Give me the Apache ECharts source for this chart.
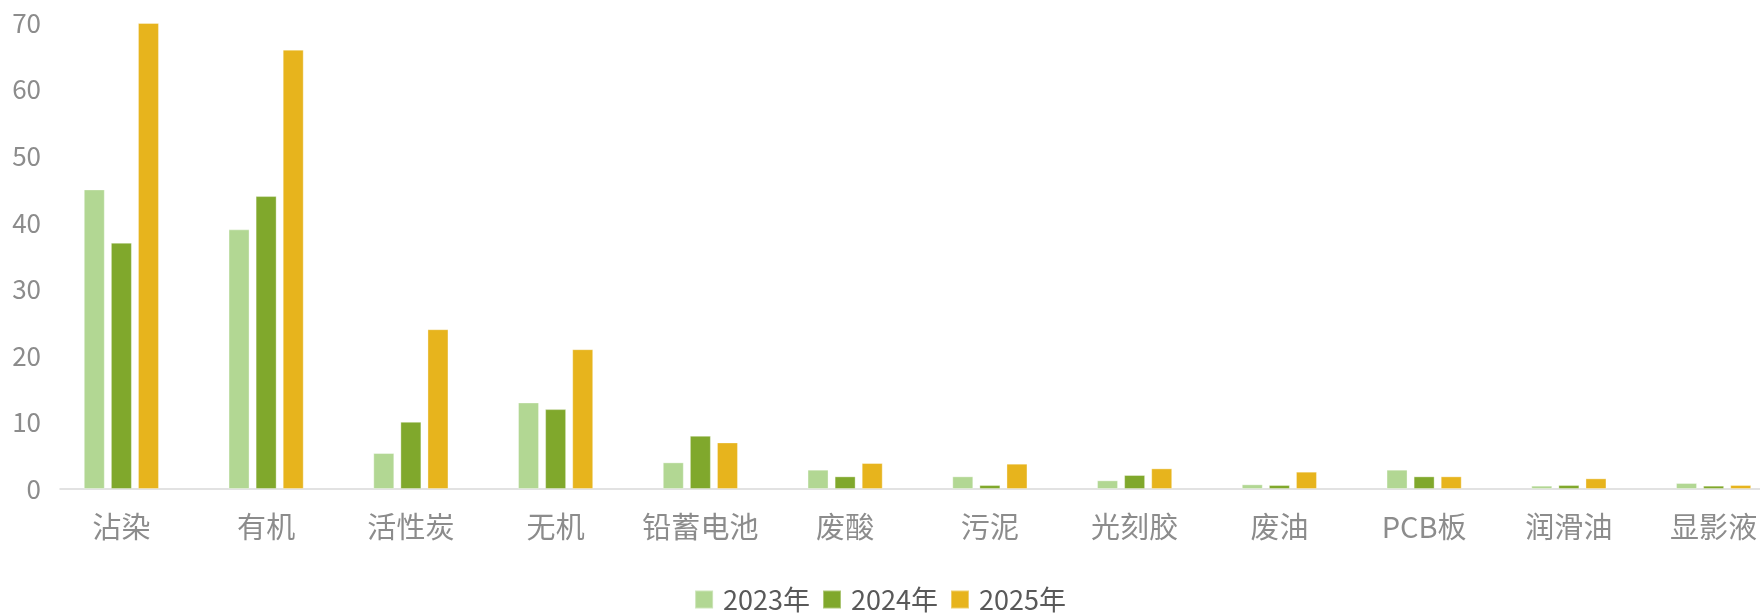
<!DOCTYPE html>
<html>
<head>
<meta charset="utf-8">
<script src="https://cdn.jsdelivr.net/npm/echarts@6/dist/echarts.min.js"></script>
<style>
html,body{margin:0;padding:0;background:#fff;}
#c{width:1760px;height:616px;}
</style>
</head>
<body>
<div id="c"></div>
<script>
const categories = ['沾染','有机','活性炭','无机','铅蓄电池','废酸','污泥','光刻胶','废油','PCB板','润滑油','显影液'];
const seriesNames = ['2023年','2024年','2025年'];
const values2023 = [45, 39, 5.4, 13, 4, 2.9, 1.9, 1.3, 0.7, 2.9, 0.5, 0.9];
const values2024 = [37, 44, 10.1, 12, 8, 1.9, 0.6, 2.1, 0.6, 1.9, 0.6, 0.5];
const values2025 = [70, 66, 24, 21, 7, 3.9, 3.8, 3.1, 2.6, 1.9, 1.6, 0.6];
const yTicks = [0, 10, 20, 30, 40, 50, 60, 70];

const colors = ['#b2d793', '#80a82c', '#e7b41d'];
const font = '"Noto Sans CJK SC", "Noto Sans", sans-serif';

const chart = echarts.init(document.getElementById('c'), null, {renderer: 'canvas'});
const allData = [values2023, values2024, values2025];
chart.setOption({
  animation: false,
  backgroundColor: '#ffffff',
  textStyle: {fontFamily: font},
  legend: {
    data: seriesNames,
    left: 'center',
    top: 586,
    padding: 0,
    icon: 'rect',
    itemWidth: 18,
    itemHeight: 18,
    itemGap: 12,
    textStyle: {fontSize: 27, color: '#595959', fontFamily: font, padding: [0, 0, 0, 5]}
  },
  grid: [
    {left: 49, right: -26, top: 23, height: 466, containLabel: false, outerBoundsMode: 'none'},
    {left: 60, right: 0, top: 23, height: 466, containLabel: false, outerBoundsMode: 'none'}
  ],
  xAxis: [
    {
      type: 'category',
      gridIndex: 0,
      data: categories,
      axisLine: {show: false},
      axisTick: {show: false},
      axisLabel: {fontSize: 29, color: '#8c8c8c', margin: 23, fontFamily: font, interval: 0}
    },
    {
      type: 'value',
      gridIndex: 1,
      min: 0, max: 1,
      axisLine: {show: true, onZero: false, lineStyle: {color: '#d9d9d9', width: 1.5}},
      axisTick: {show: false},
      axisLabel: {show: false},
      splitLine: {show: false}
    }
  ],
  yAxis: [
    {
      type: 'value',
      gridIndex: 0,
      min: yTicks[0],
      max: yTicks[yTicks.length - 1],
      interval: yTicks[1] - yTicks[0],
      axisLine: {show: false},
      axisTick: {show: false},
      splitLine: {show: false},
      axisLabel: {fontSize: 26, color: '#8c8c8c', margin: 8, fontFamily: font}
    },
    {
      type: 'value',
      gridIndex: 1,
      show: false,
      min: 0, max: 1
    }
  ],
  series: seriesNames.map((name, i) => ({
    name: name,
    type: 'bar',
    xAxisIndex: 0,
    yAxisIndex: 0,
    data: allData[i],
    barWidth: 21,
    barGap: '29%',
    itemStyle: {color: colors[i], borderColor: 'rgba(255,255,255,0.35)', borderWidth: 1}
  }))
});
</script>
</body>
</html>
